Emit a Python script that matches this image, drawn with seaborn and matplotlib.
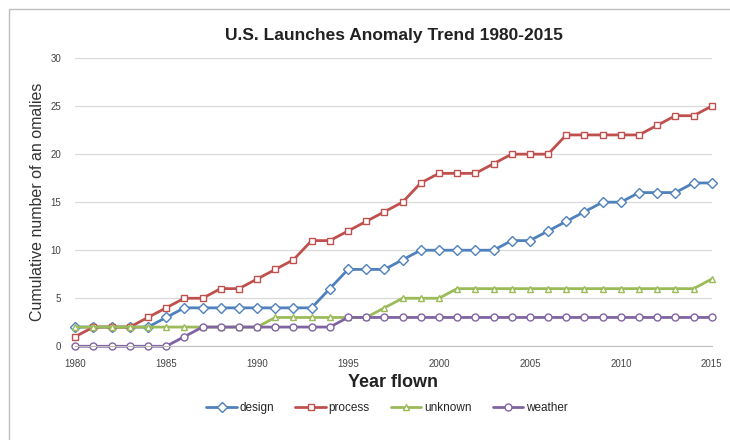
import matplotlib
matplotlib.use("Agg")
import matplotlib.pyplot as plt
import seaborn as sns
import pandas as pd
from matplotlib.patches import Rectangle

years = list(range(1980, 2016))
design = [2, 2, 2, 2, 2, 3, 4, 4, 4, 4, 4, 4, 4, 4, 6, 8, 8, 8, 9, 10,
          10, 10, 10, 10, 11, 11, 12, 13, 14, 15, 15, 16, 16, 16, 17, 17]
process = [1, 2, 2, 2, 3, 4, 5, 5, 6, 6, 7, 8, 9, 11, 11, 12, 13, 14, 15, 17,
           18, 18, 18, 19, 20, 20, 20, 22, 22, 22, 22, 22, 23, 24, 24, 25]
unknown = [2, 2, 2, 2, 2, 2, 2, 2, 2, 2, 2, 3, 3, 3, 3, 3, 3, 4, 5, 5,
           5, 6, 6, 6, 6, 6, 6, 6, 6, 6, 6, 6, 6, 6, 6, 7]
weather = [0, 0, 0, 0, 0, 0, 1, 2, 2, 2, 2, 2, 2, 2, 2, 3, 3, 3, 3, 3,
           3, 3, 3, 3, 3, 3, 3, 3, 3, 3, 3, 3, 3, 3, 3, 3]
series_names = ["design", "process", "unknown", "weather"]

df = pd.concat([
    pd.DataFrame({"year": years, "count": vals, "cause": name})
    for name, vals in zip(series_names, [design, process, unknown, weather])
])

palette = {"design": "#4F81BD", "process": "#C0504D",
           "unknown": "#9BBB59", "weather": "#8064A2"}
markers = {"design": "D", "process": "s", "unknown": "^", "weather": "o"}

sns.set_style("white")
plt.rcParams["font.family"] = ["Liberation Sans", "DejaVu Sans"]

fig = plt.figure(figsize=(7.3, 4.4), dpi=100)
ax = fig.add_axes([0.103, 0.213, 0.872, 0.655])

for name in series_names:
    sns.lineplot(data=df[df["cause"] == name], x="year", y="count",
                 color=palette[name], marker=markers[name], linestyle="-",
                 linewidth=2, markersize=5, markerfacecolor="white",
                 markeredgecolor=palette[name], markeredgewidth=1,
                 ax=ax, label=name, legend=False, clip_on=False)

ax.set_xlim(1980, 2015)
ax.set_ylim(0, 30)
ax.set_xticks(range(1980, 2016, 5))
ax.set_yticks(range(0, 31, 5))
ax.tick_params(axis="both", labelsize=7, colors="#444444", length=0)
ax.tick_params(axis="x", pad=9)
ax.tick_params(axis="y", pad=10)
ax.yaxis.grid(True, color="#D9D9D9", linewidth=0.9)
ax.set_axisbelow(True)
for side in ["left", "right", "top"]:
    ax.spines[side].set_visible(False)
ax.spines["bottom"].set_color("#BFBFBF")

ax.set_title("U.S. Launches Anomaly Trend 1980-2015", fontsize=12.5,
             fontweight="bold", color="#222222", pad=13)
ax.set_xlabel("Year flown", fontsize=13, fontweight="bold", color="#222222",
              labelpad=4)
ax.set_ylabel("Cumulative number of an omalies", fontsize=11.5, color="#333333",
              labelpad=4)

handles = [plt.Line2D([], [], color=palette[n], marker=markers[n], lw=2,
                      markersize=5, markerfacecolor="white")
           for n in series_names]
fig.legend(handles, series_names, loc="center", bbox_to_anchor=(0.53, 0.072),
           ncol=4, frameon=False, fontsize=8.5, handlelength=2.6,
           columnspacing=1.8, handletextpad=0.2)

fig.patches.append(Rectangle((0.013, -0.02), 0.995, 1.0, transform=fig.transFigure,
                             fill=False, edgecolor="#BFBFBF", linewidth=1))

fig.savefig("out.png", dpi=100)
